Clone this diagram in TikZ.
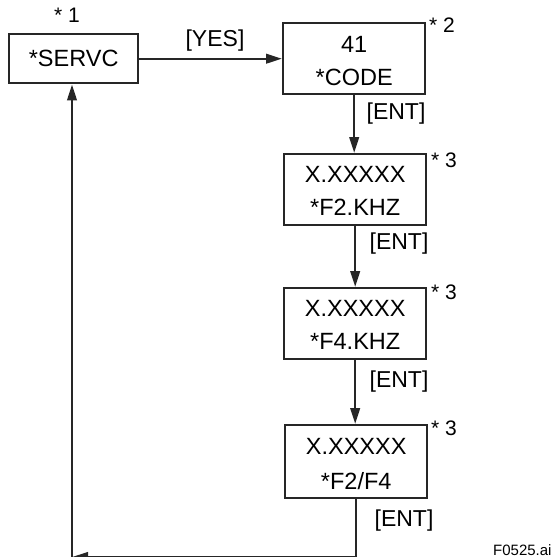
\documentclass[tikz,border=0pt]{standalone}
\usepackage{fontspec}
\setmainfont{Liberation Sans}
\usetikzlibrary{arrows.meta,calc}
\begin{document}
\begin{tikzpicture}[x=1pt,y=-1pt,
  box/.style={draw=black!85,line width=2.4pt,minimum width=142pt,minimum height=71pt,inner sep=0pt,anchor=north west},
  txt/.style={font=\fontsize{23.5}{23.5}\selectfont,inner sep=0pt},
  star/.style={font=\fontsize{21}{21}\selectfont,inner sep=0pt,anchor=west},
  lab/.style={font=\fontsize{23}{23}\selectfont,inner sep=0pt},
  arr/.style={draw=black!85,line width=2.4pt,-{Triangle[length=16pt,width=9.5pt]}},
  ln/.style={draw=black!85,line width=2.4pt}]
\useasboundingbox (0,0) rectangle (556,557);
\clip (0,0) rectangle (556,557);
% boxes
\node[box,minimum width=129pt,minimum height=49pt] (b1) at (8,33) {};
\node[box] (b2) at (282,22) {};
\node[box] (b3) at (283,153) {};
\node[box] (b4) at (283,287) {};
\node[box,minimum height=73pt] (b5) at (284,424) {};
% box texts
\node[txt] (t1) at (b1.center) {*SERVC};
\node[txt] (t2a) at ($(b2.north)+(0,22)$) {41};
\node[txt] (t2b) at ($(b2.north)+(0,55)$) {*CODE};
\node[txt] (t3a) at ($(b3.north)+(0,21)$) {X.XXXXX};
\node[txt] (t3b) at ($(b3.north)+(0,54)$) {*F2.KHZ};
\node[txt] (t4a) at ($(b4.north)+(0,21)$) {X.XXXXX};
\node[txt] (t4b) at ($(b4.north)+(0,54)$) {*F4.KHZ};
\node[txt] (t5a) at ($(b5.north)+(0,22)$) {X.XXXXX};
\node[txt] (t5b) at ($(b5.north)+(0,57)$) {*F2/F4};
% star notes
\node[star] (s1) at (54,15) {* 1};
\node[star] (s2) at (429,25) {* 2};
\node[star] (s3) at (431,160) {* 3};
\node[star] (s4) at (431,292) {* 3};
\node[star] (s5) at (431,428) {* 3};
% connectors
\draw[arr] (b1.east) -- (b2.west);
\node[lab] (yes) at (215,41) {[YES]};
\draw[arr] (b2.south) -- (b2.south |- b3.north);
\node[lab] (e1) at (396,114) {[ENT]};
\draw[arr] (b3.south) -- (b3.south |- b4.north);
\node[lab] (e2) at (399,244) {[ENT]};
\draw[arr] (b4.south) -- (b4.south |- b5.north);
\node[lab] (e3) at (399,382) {[ENT]};
\node[lab] (e4) at (404,521) {[ENT]};
\coordinate (c1) at (72,557);
\draw[arr] (b5.south) |- (c1);
\draw[arr] (c1) -- (c1 |- b1.south);
\node[font=\fontsize{15}{15}\selectfont,inner sep=0pt,anchor=base west] (fig) at (493,555) {F0525.ai};
\end{tikzpicture}
\end{document}
